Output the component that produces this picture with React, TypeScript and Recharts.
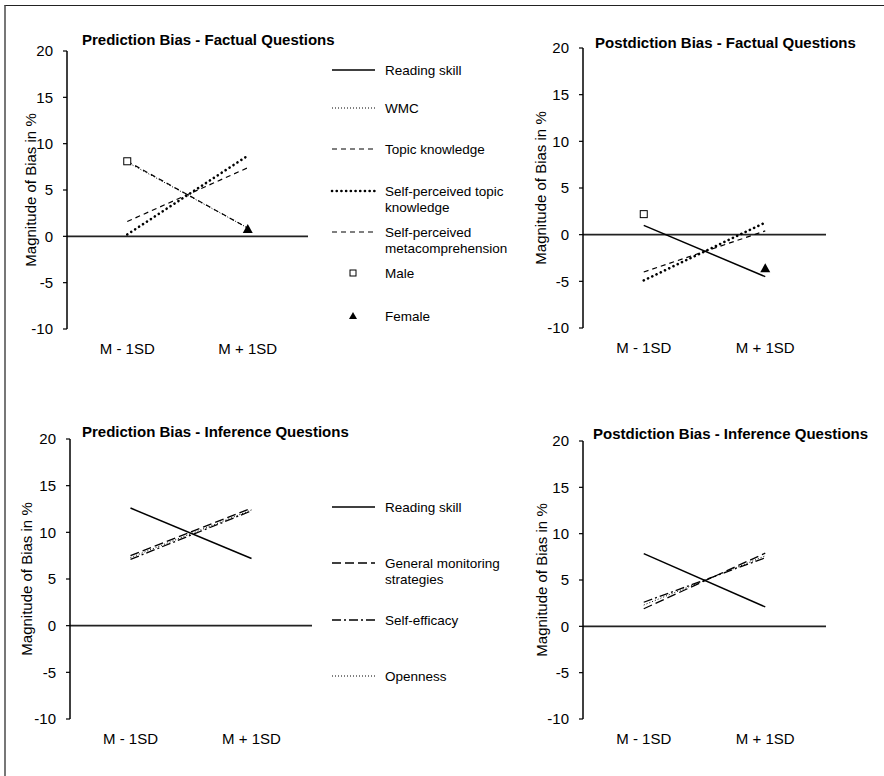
import React from 'react';
import { LineChart, Line, XAxis, YAxis, ReferenceLine, Legend, Label } from 'recharts';

const categories = ['M - 1SD', 'M + 1SD'];
const yTicks = [-10, -5, 0, 5, 10, 15, 20];
const yAxisTitle = 'Magnitude of Bias in %';
const panelTitles = [
  'Prediction Bias - Factual Questions',
  'Postdiction Bias - Factual Questions',
  'Prediction Bias - Inference Questions',
  'Postdiction Bias - Inference Questions',
];

// Prediction bias - factual questions
const predFactWMC = [8.0, 0.9];
const predFactTopic = [1.6, 7.4];
const predFactSelfTopic = [0.2, 8.7];
const predFactSelfMeta = [8.1, 0.9];
const predFactMale = [8.1, null];
const predFactFemale = [null, 0.8];

// Postdiction bias - factual questions
const postFactReading = [1.0, -4.5];
const postFactTopic = [-4.0, 0.4];
const postFactSelfTopic = [-4.9, 1.3];
const postFactMale = [2.2, null];
const postFactFemale = [null, -3.6];

// Prediction bias - inference questions
const predInfReading = [12.6, 7.2];
const predInfMonitoring = [7.5, 12.6];
const predInfSelfEfficacy = [7.1, 12.3];
const predInfOpenness = [7.3, 12.4];

// Postdiction bias - inference questions
const postInfReading = [7.85, 2.1];
const postInfMonitoring = [1.9, 7.9];
const postInfSelfEfficacy = [2.6, 7.4];
const postInfOpenness = [2.3, 7.6];

const factualLegendKeys = ['reading', 'wmc', 'topic', 'selfTopic', 'selfMeta', 'male', 'female'];
const factualLegendLabels = [
  ['Reading skill'],
  ['WMC'],
  ['Topic knowledge'],
  ['Self-perceived topic', 'knowledge'],
  ['Self-perceived', 'metacomprehension'],
  ['Male'],
  ['Female'],
];
const inferenceLegendKeys = ['reading', 'monitoring', 'selfEfficacy', 'openness'];
const inferenceLegendLabels = [
  ['Reading skill'],
  ['General monitoring', 'strategies'],
  ['Self-efficacy'],
  ['Openness'],
];

const FONT = '"Liberation Sans", Arial, Helvetica, sans-serif';

const STYLE: Record<string, any> = {
  reading: { strokeWidth: 1.5 },
  wmc: { strokeWidth: 1, strokeDasharray: '1 2' },
  topic: { strokeWidth: 1.2, strokeDasharray: '5 4' },
  selfTopic: { strokeWidth: 2.6, strokeDasharray: '0.1 4.6', strokeLinecap: 'round' },
  selfMeta: { strokeWidth: 1.2, strokeDasharray: '5 4' },
  monitoring: { strokeWidth: 1.3, strokeDasharray: '9 4' },
  selfEfficacy: { strokeWidth: 1.3, strokeDasharray: '9 3 2 3' },
  openness: { strokeWidth: 1, strokeDasharray: '1 2' },
};

function buildRows(series: Record<string, (number | null)[]>) {
  return categories.map((cat, i) => {
    const r: any = { cat };
    Object.keys(series).forEach((k) => {
      r[k] = series[k][i];
    });
    return r;
  });
}

const data1 = buildRows({ wmc: predFactWMC, topic: predFactTopic, selfTopic: predFactSelfTopic, selfMeta: predFactSelfMeta, male: predFactMale, female: predFactFemale });
const data2 = buildRows({ reading: postFactReading, topic: postFactTopic, selfTopic: postFactSelfTopic, male: postFactMale, female: postFactFemale });
const data3 = buildRows({ reading: predInfReading, monitoring: predInfMonitoring, selfEfficacy: predInfSelfEfficacy, openness: predInfOpenness });
const data4 = buildRows({ reading: postInfReading, monitoring: postInfMonitoring, selfEfficacy: postInfSelfEfficacy, openness: postInfOpenness });

const squareDot = (p: any) => {
  if (p.value == null || p.cy == null || isNaN(p.cy)) return <g key={`sq${p.index}`} />;
  return <rect key={`sq${p.index}`} x={p.cx - 3.5} y={p.cy - 3.5} width={7} height={7} fill="#fff" stroke="#000" strokeWidth={1} />;
};
const triangleDot = (p: any) => {
  if (p.value == null || p.cy == null || isNaN(p.cy)) return <g key={`tr${p.index}`} />;
  return <path key={`tr${p.index}`} d={`M${p.cx},${p.cy - 5} L${p.cx + 5},${p.cy + 4} L${p.cx - 5},${p.cy + 4} Z`} fill="#000" />;
};

function LegendBox({ keys, labels, ys }: { keys: string[]; labels: string[][]; ys: number[] }) {
  return (
    <svg width={190} height={300} style={{ overflow: 'visible', fontFamily: FONT }}>
      {keys.map((k, i) => {
        const y = ys[i];
        let sample: any;
        if (k === 'male') sample = <rect x={25} y={y - 3} width={6} height={6} fill="#fff" stroke="#000" strokeWidth={1} />;
        else if (k === 'female') sample = <path d={`M28,${y - 4} L32,${y + 3} L24,${y + 3} Z`} fill="#000" />;
        else sample = <line x1={7} x2={50} y1={y} y2={y} stroke="#000" {...STYLE[k]} />;
        return (
          <g key={k}>
            {sample}
            {labels[i].map((t, j) => (
              <text key={j} x={60} y={y + j * 16} dominantBaseline="central" fontSize={13.5} fill="#000">
                {t}
              </text>
            ))}
          </g>
        );
      })}
    </svg>
  );
}

function Panel(props: any) {
  const { left, top, width, plotLeft, plotTop, plotWidth, plotHeight, labelDist, data, keys, legend, title, titleLeft, titleTop } = props;
  const height = plotTop + plotHeight + 30;
  const pad = plotWidth / 4;
  return (
    <>
      <div style={{ position: 'absolute', left, top }}>
        <LineChart
          width={width}
          height={height}
          data={data}
          margin={{ top: plotTop, right: width - plotLeft - plotWidth, bottom: 0, left: 0 }}
          style={{ fontFamily: FONT }}
        >
          <XAxis
            dataKey="cat"
            axisLine={false}
            tickLine={false}
            tickSize={5}
            tickMargin={9}
            height={30}
            interval={0}
            padding={{ left: pad, right: pad }}
            tick={{ fontSize: 15, fill: '#000', fontFamily: FONT }}
          />
          <YAxis
            type="number"
            domain={[-10, 20]}
            ticks={yTicks}
            interval={0}
            width={plotLeft}
            tickSize={4}
            tickMargin={10}
            axisLine={{ stroke: '#000', strokeWidth: 1.5 }}
            tickLine={{ stroke: '#000', strokeWidth: 1.2 }}
            tick={{ fontSize: 15, fill: '#000', fontFamily: FONT }}
          >
            <Label
              content={(lp: any) => {
                const vb = lp.viewBox || { x: 0, y: plotTop, width: plotLeft, height: plotHeight };
                const cx = vb.x + vb.width - labelDist;
                const cy = vb.y + vb.height / 2;
                return (
                  <text x={cx} y={cy} transform={`rotate(-90 ${cx} ${cy})`} textAnchor="middle" dominantBaseline="central" fontSize={15} fill="#000" fontFamily={FONT}>
                    {yAxisTitle}
                  </text>
                );
              }}
            />
          </YAxis>
          <ReferenceLine y={0} stroke="#222" strokeWidth={1.6} />
          {keys.map((k: string) => {
            if (k === 'male')
              return <Line key={k} dataKey={k} stroke="none" dot={squareDot} activeDot={false} isAnimationActive={false} legendType="none" />;
            if (k === 'female')
              return <Line key={k} dataKey={k} stroke="none" dot={triangleDot} activeDot={false} isAnimationActive={false} legendType="none" />;
            return <Line key={k} dataKey={k} stroke="#000" dot={false} activeDot={false} isAnimationActive={false} {...STYLE[k]} />;
          })}
          {legend ? (
            <Legend
              layout="vertical"
              align="center"
              verticalAlign="middle"
              wrapperStyle={{ position: 'absolute', left: legend.left, top: legend.top, width: 190, height: 300 }}
              content={() => <LegendBox keys={legend.keys} labels={legend.labels} ys={legend.ys} />}
            />
          ) : null}
        </LineChart>
      </div>
      <div
        style={{
          position: 'absolute',
          left: titleLeft,
          top: titleTop,
          fontFamily: FONT,
          fontWeight: 'bold',
          fontSize: 15,
          lineHeight: '18px',
          whiteSpace: 'nowrap',
          color: '#000',
        }}
      >
        {title}
      </div>
    </>
  );
}

export default function App() {
  return (
    <div style={{ position: 'absolute', left: 0, top: 0, width: 884, height: 776, background: '#fff', overflow: 'hidden' }}>
      <div style={{ position: 'absolute', left: 4, top: 5, width: 890, height: 780, borderTop: '1.5px solid #222', borderLeft: '2px solid #777' }} />
      <Panel
        left={0}
        top={0}
        width={500}
        plotLeft={67}
        plotTop={51}
        plotWidth={241}
        plotHeight={278}
        labelDist={37}
        data={data1}
        keys={['wmc', 'selfMeta', 'topic', 'selfTopic', 'male', 'female']}
        title={panelTitles[0]}
        titleLeft={82}
        titleTop={31}
        legend={{ left: 325, top: 55, keys: factualLegendKeys, labels: factualLegendLabels, ys: [15, 53, 94, 136, 177, 218, 261] }}
      />
      <Panel
        left={520}
        top={0}
        width={340}
        plotLeft={63}
        plotTop={48}
        plotWidth={243}
        plotHeight={280}
        labelDist={43}
        data={data2}
        keys={['reading', 'topic', 'selfTopic', 'male', 'female']}
        title={panelTitles[1]}
        titleLeft={595}
        titleTop={34}
      />
      <Panel
        left={0}
        top={389}
        width={500}
        plotLeft={70}
        plotTop={50}
        plotWidth={242}
        plotHeight={280}
        labelDist={44}
        data={data3}
        keys={['reading', 'monitoring', 'selfEfficacy', 'openness']}
        title={panelTitles[2]}
        titleLeft={82}
        titleTop={423}
        legend={{ left: 325, top: 100, keys: inferenceLegendKeys, labels: inferenceLegendLabels, ys: [18, 74, 131, 187] }}
      />
      <Panel
        left={520}
        top={389}
        width={340}
        plotLeft={63}
        plotTop={52}
        plotWidth={243}
        plotHeight={278}
        labelDist={42}
        data={data4}
        keys={['reading', 'monitoring', 'selfEfficacy', 'openness']}
        title={panelTitles[3]}
        titleLeft={593}
        titleTop={425}
      />
    </div>
  );
}
